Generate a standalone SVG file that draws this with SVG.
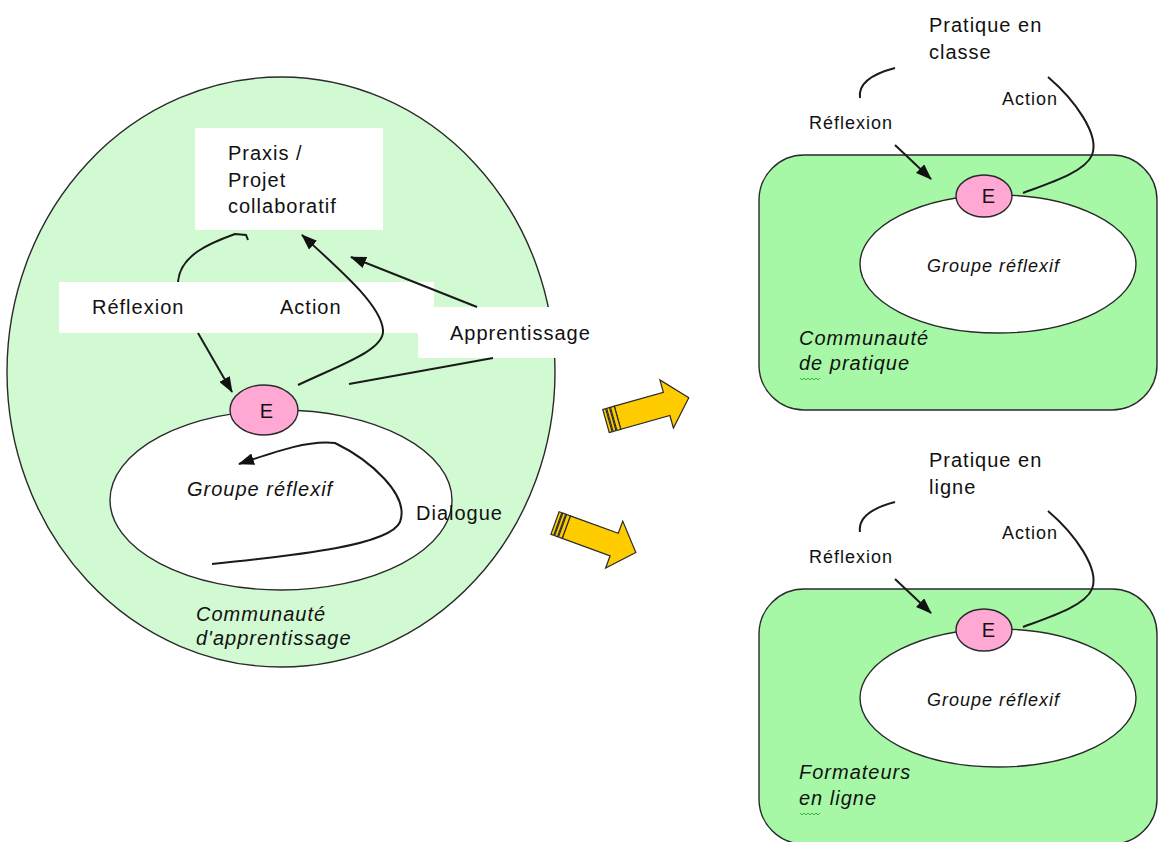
<svg xmlns="http://www.w3.org/2000/svg" width="1159" height="842" viewBox="0 0 1159 842">
<style>
.t{font-family:"Liberation Sans",Arial,sans-serif;font-size:20px;letter-spacing:1px;fill:#111}
.i{font-style:italic}
.s18{font-size:18px}
.ln{fill:none;stroke:#1a1a1a;stroke-width:2}
.arr{marker-end:url(#ah)}
.edge{stroke:#2a2a2a;stroke-width:1.4}
.pink{fill:#FFA8D4}
.yel{fill:#FFCC00;stroke:#2a2a2a;stroke-width:1.2;stroke-linejoin:miter}
.sq{fill:none;stroke:#3cb043;stroke-width:1}
</style>
<defs>
<marker id="ah" markerUnits="userSpaceOnUse" markerWidth="16" markerHeight="12" refX="15" refY="6" orient="auto">
<path d="M0,0 L16,6 L0,12 Z" fill="#111"/>
</marker>
<g id="yarrow">
<path class="yel" d="M12,-12 L63,-12 L63,-25 L86,0 L63,25 L63,12 L12,12 Z"/>
<rect class="yel" x="0" y="-12" width="3" height="24"/>
<rect class="yel" x="4" y="-12" width="3" height="24"/>
<rect class="yel" x="8" y="-12" width="4" height="24"/>
</g>
<g id="panel">
<rect class="edge" x="759" y="155" width="398" height="255" rx="45" ry="45" fill="#A6F8A6"/>
<ellipse class="edge" cx="998" cy="264" rx="138" ry="69" fill="#fff"/>
<ellipse class="edge pink" cx="984" cy="196" rx="28" ry="21"/>
<text class="t" x="989" y="203" text-anchor="middle">E</text>
<text class="t s18 i" x="927" y="272">Groupe réflexif</text>
<text class="t s18" x="809" y="129">Réflexion</text>
<text class="t s18" x="1002" y="105">Action</text>
<path class="ln" d="M895,68 C872,74 858,84 860,98"/>
<path class="ln arr" d="M895,145 L931,179"/>
<path class="ln" d="M1048,77 C1075,100 1100,135 1092,155 C1085,172 1050,183 1023,193"/>
</g>
</defs>

<g id="communaute-apprentissage">
<ellipse class="edge" cx="281" cy="372" rx="274" ry="295" fill="#D2FAD2"/>
<text class="t i" x="196" y="621">Communauté</text>
<text class="t i" x="196" y="645">d'apprentissage</text>
</g>

<g id="praxis">
<rect x="195" y="128" width="188" height="102" fill="#fff"/>
<text class="t" x="228" y="160">Praxis /</text>
<text class="t" x="228" y="187">Projet</text>
<text class="t" x="228" y="213">collaboratif</text>
</g>

<g id="label-reflexion-action">
<rect x="59" y="282" width="375" height="51" fill="#fff"/>
<text class="t" x="92" y="314">Réflexion</text>
<text class="t" x="280" y="314">Action</text>
</g>

<g id="label-apprentissage">
<rect x="418" y="307" width="190" height="51" fill="#fff"/>
<text class="t" x="450" y="340">Apprentissage</text>
</g>

<g id="groupe-reflexif-main">
<ellipse class="edge" cx="281" cy="500" rx="171" ry="90" fill="#fff"/>
<text class="t i" x="187" y="496">Groupe réflexif</text>
<text class="t" x="416" y="520">Dialogue</text>
</g>

<g id="E-main">
<ellipse class="edge pink" cx="264" cy="410" rx="34" ry="25"/>
<text class="t" x="267" y="418" text-anchor="middle">E</text>
</g>

<g id="connectors">
<path class="ln" d="M248,240 L246,235 L235,234 C210,243 180,255 178,282"/>
<path class="ln arr" d="M198,333 L232,392"/>
<path class="ln arr" d="M298,385 C340,365 385,350 383,330 C381,305 340,270 302,235"/>
<path class="ln arr" d="M477,307 L351,257"/>
<path class="ln" d="M493,358 L349,384"/>
<path class="ln arr" d="M212,564 C300,555 390,545 400,522 C410,495 370,460 335,443 C310,440 280,450 239,464"/>
</g>

<g id="transition-arrows">
<use href="#yarrow" transform="translate(606,421) rotate(-15.7)"/>
<use href="#yarrow" transform="translate(555,523) rotate(20)"/>
</g>

<g id="communaute-pratique">
<use href="#panel"/>
<text class="t" x="929" y="32">Pratique en</text>
<text class="t" x="929" y="59">classe</text>
<text class="t i" x="799" y="345">Communauté</text>
<text class="t i" x="799" y="370">de pratique</text>
<path class="sq" d="M800,378 l2,2 l2,-2 l2,2 l2,-2 l2,2 l2,-2 l2,2 l2,-2 l2,2 l2,-2"/>
</g>

<g id="formateurs-en-ligne">
<use href="#panel" transform="translate(0,434)"/>
<text class="t" x="929" y="467">Pratique en</text>
<text class="t" x="929" y="494">ligne</text>
<text class="t i" x="799" y="779">Formateurs</text>
<text class="t i" x="799" y="805">en ligne</text>
<path class="sq" d="M800,813 l2,2 l2,-2 l2,2 l2,-2 l2,2 l2,-2 l2,2 l2,-2 l2,2 l2,-2"/>
</g>
</svg>
